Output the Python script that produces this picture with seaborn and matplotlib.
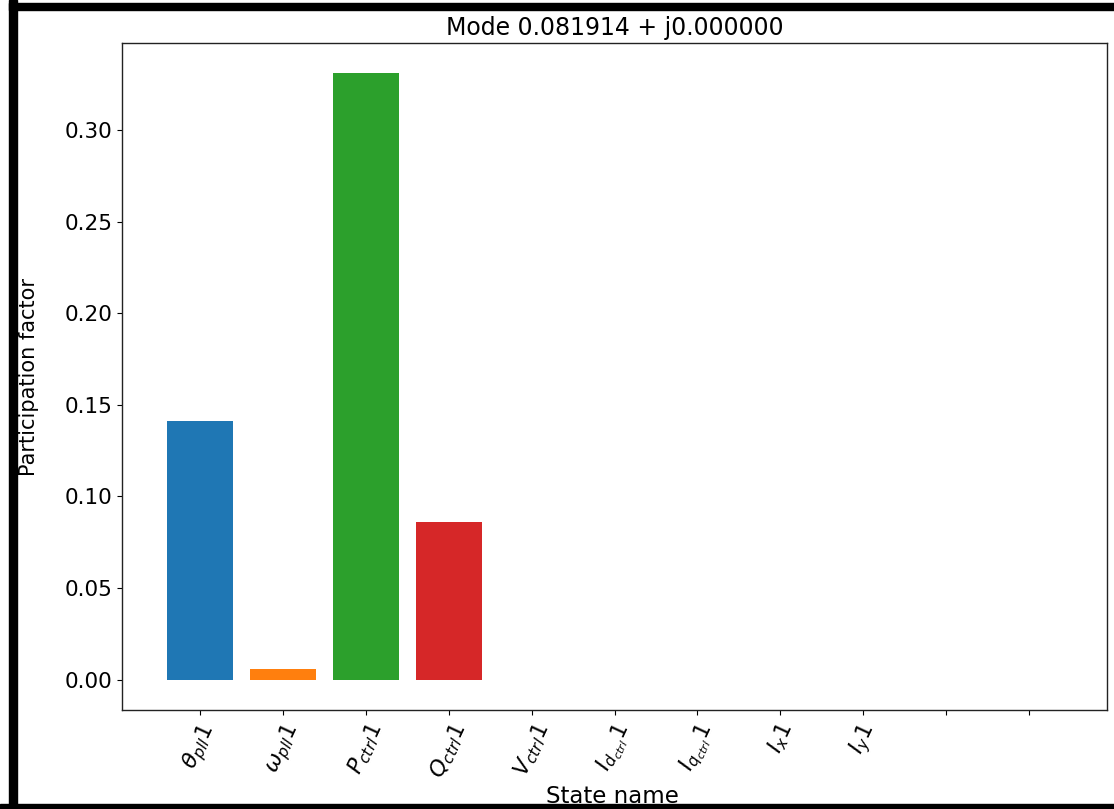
import matplotlib
matplotlib.use("Agg")
import matplotlib.pyplot as plt
import numpy as np
import pandas as pd
import seaborn as sns
from matplotlib.patches import Rectangle

# participation factors for mode 0.081914 + j0.000000
states = ["theta_pll", "omega_pll", "P_ctrl", "Q_ctrl", "V_ctrl",
          "Id_ctrl", "Iq_ctrl", "Ix", "Iy", "s10", "s11"]
tick_labels = [r"$\theta_{pll}1$", r"$\omega_{pll}1$", r"$P_{ctrl}1$",
               r"$Q_{ctrl}1$", r"$V_{ctrl}1$", r"$I_{d_{ctrl}}1$",
               r"$I_{q_{ctrl}}1$", r"$I_x1$", r"$I_y1$", "", ""]
pf = [0.141, 0.0057, 0.331, 0.0858, 0.0, 0.0, 0.0, 0.0, 0.0, 0.0, 0.0]

sns.set_style("ticks", {"text.color": "black", "axes.labelcolor": "black",
                        "xtick.color": "black", "ytick.color": "black",
                        "axes.edgecolor": "#222222"})
plt.rcParams["font.family"] = ["DejaVu Sans"]

df = pd.DataFrame({"state": states, "pf": pf})

fig = plt.figure(figsize=(11.14, 8.09), dpi=100)
ax = fig.add_axes([122 / 1114, 99 / 809, 985 / 1114, 667 / 809])

sns.barplot(data=df, x="state", y="pf", hue="state", palette="tab10",
            saturation=1, legend=False, width=0.8, linewidth=0, ax=ax)

ax.set_xticks(range(len(states)))
ax.set_xticklabels(tick_labels)
ax.tick_params(axis="x", rotation=65, labelsize=16)
ax.tick_params(axis="y", labelsize=15.5)
ax.set_xlim(-0.94, 10.94)
ax.set_ylim(-0.0166, 0.3476)
ax.set_yticks(np.arange(0, 0.31, 0.05))
ax.set_yticklabels([f"{v:.2f}" for v in np.arange(0, 0.31, 0.05)])

ax.set_title("Mode 0.081914 + j0.000000", fontsize=17)
ax.set_xlabel("State name", fontsize=16.5)
ax.set_ylabel("Participation factor", fontsize=15)
ax.xaxis.set_label_coords(0.498, -0.112)
ax.yaxis.set_label_coords(-0.084, 0.5)

for sp in ax.spines.values():
    sp.set_linewidth(1.0)

# screenshot frame
W, H = 1114, 809
fig.add_artist(Rectangle((9 / W, 3 / H), 8 / W, 1 - 3 / H, transform=fig.transFigure,
                         color="black", zorder=10))
fig.add_artist(Rectangle((9 / W, 1 - 10 / H), 1, 7 / H, transform=fig.transFigure,
                         color="black", zorder=10))
fig.add_artist(Rectangle((0, 0), 1, 5 / H, transform=fig.transFigure,
                         color="black", zorder=10))

fig.savefig("out.png", dpi=100)
